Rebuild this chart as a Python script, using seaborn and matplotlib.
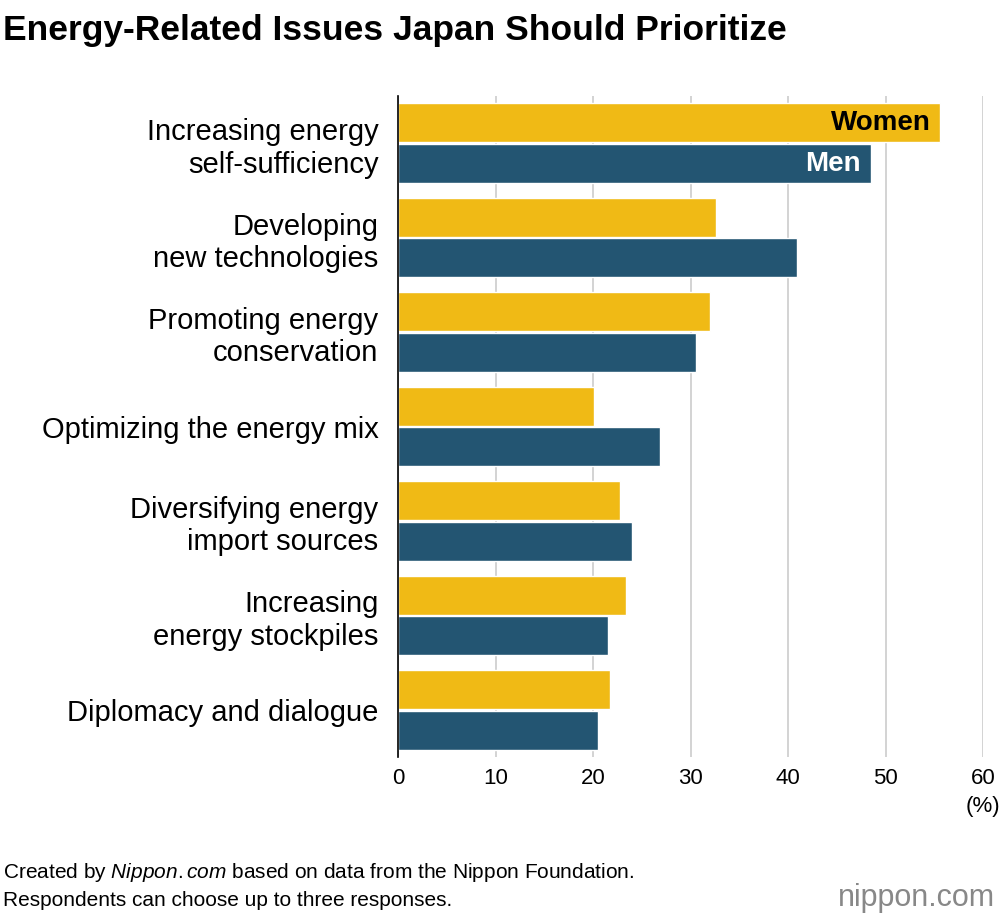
import matplotlib
matplotlib.use("Agg")
import matplotlib.pyplot as plt
import seaborn as sns
import pandas as pd

categories = ["Increasing energy\nself-sufficiency", "Developing\nnew technologies",
              "Promoting energy\nconservation", "Optimizing the energy mix",
              "Diversifying energy\nimport sources", "Increasing\nenergy stockpiles",
              "Diplomacy and dialogue"]
women = [55.6, 32.6, 32.0, 20.1, 22.8, 23.4, 21.7]
men = [48.5, 40.9, 30.6, 26.9, 24.0, 21.5, 20.5]
ticks = [0, 10, 20, 30, 40, 50, 60]

df = pd.DataFrame({"cat": categories * 2, "val": women + men,
                   "sex": ["Women"] * 7 + ["Men"] * 7})

sns.set_theme(style="white")
plt.rcParams['font.family'] = ['Liberation Sans', 'DejaVu Sans']
plt.rcParams['text.color'] = 'black'
plt.rcParams['xtick.color'] = 'black'
plt.rcParams['ytick.color'] = 'black'
plt.rcParams['mathtext.fontset'] = 'custom'
plt.rcParams['mathtext.it'] = 'Liberation Sans:italic'
plt.rcParams['mathtext.rm'] = 'Liberation Sans'
fig = plt.figure(figsize=(10, 9.18), dpi=100)
ax = fig.add_axes([0.398, 1 - 757 / 918, 0.585, (757 - 96) / 918])
sns.barplot(data=df, y="cat", x="val", hue="sex", orient="h", ax=ax,
            palette={"Women": "#F0BA15", "Men": "#235572"}, width=0.86,
            gap=0.04, legend=False, saturation=1, zorder=3)
ax.set_xlim(0, 60)
ax.set_xticks(ticks)
ax.set_xticklabels([str(t) for t in ticks], fontsize=16)
ax.tick_params(axis="x", length=0, pad=8)
ax.tick_params(axis="y", length=0, pad=14)
ax.set_yticklabels(categories, fontsize=21, linespacing=1.2)
ax.set_xlabel(""); ax.set_ylabel("")
ax.grid(axis="x", color="#cccccc", lw=1.2, zorder=0)
for s in ["top", "right", "bottom"]:
    ax.spines[s].set_visible(False)
ax.spines["left"].set_color("black")
ax.spines["left"].set_linewidth(1.2)
ax.spines["left"].set_zorder(4)
pw = ax.patches[0]; pm = ax.patches[7]
ax.text(pw.get_width() - 1, pw.get_y() + pw.get_height() / 2, "Women",
        ha="right", va="center", fontsize=20, fontweight="bold", color="black", zorder=5)
ax.text(pm.get_width() - 1, pm.get_y() + pm.get_height() / 2, "Men",
        ha="right", va="center", fontsize=20, fontweight="bold", color="white", zorder=5)
fig.text(0.983, 1 - 812 / 918, "(%)", ha="center", fontsize=16)
fig.text(0.003, 1 - 40 / 918, "Energy-Related Issues Japan Should Prioritize",
         fontsize=25.5, fontweight="bold")
fig.text(0.003, 1 - 878 / 918,
         "Created by $\\it{Nippon.com}$ based on data from the Nippon Foundation.",
         fontsize=15)
fig.text(0.003, 1 - 906 / 918, "Respondents can choose up to three responses.", fontsize=15)
fig.text(0.995, 1 - 906 / 918, "nippon.com", ha="right", fontsize=22, color="#888888")
fig.savefig("out.png", dpi=100)
